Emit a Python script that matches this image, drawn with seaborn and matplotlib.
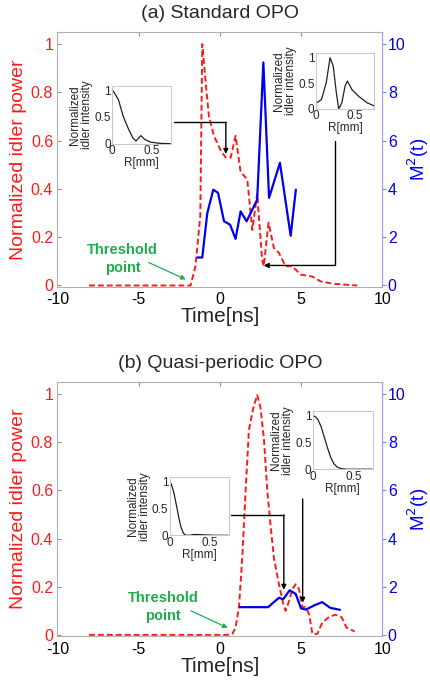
import matplotlib
matplotlib.use("Agg")
import matplotlib.pyplot as plt
import seaborn as sns
import numpy as np
import pandas as pd

# ---- data: panel (a) standard OPO ----
t_pow_a = [-8.05, -1.8, -1.5, -1.2, -1.08, -0.87, -0.67, -0.36, 0.05, 0.36, 0.67, 0.97, 1.28,
           1.69, 2.0, 2.3, 2.6, 2.7, 3.0, 3.33, 3.64, 4.05, 4.46, 4.97, 5.7, 6.2, 7.0, 8.46]
pow_a = [0.0, 0.0, 0.08, 0.29, 1.0, 0.84, 0.70, 0.62, 0.56, 0.53, 0.53, 0.62, 0.47,
         0.44, 0.23, 0.38, 0.11, 0.08, 0.26, 0.155, 0.135, 0.08, 0.08, 0.045, 0.037, 0.017, 0.007, 0.0]
t_m2_a = [-1.38, -1.08, -0.77, -0.4, -0.11, 0.26, 0.63, 0.97, 1.28, 1.65, 2.0, 2.3, 2.68,
          3.03, 3.7, 4.36, 4.68]
m2_a = [1.16, 1.16, 3.0, 3.97, 3.84, 2.66, 2.52, 1.93, 3.07, 2.66, 3.14, 3.56, 9.24,
        3.63, 5.08, 2.06, 3.97]

# ---- data: panel (b) quasi-periodic OPO ----
t_pow_b = [-8.05, 0.46, 0.77, 0.97, 1.18, 1.38, 1.59, 1.79, 2.05, 2.3, 2.5, 2.72, 2.92, 3.13,
           3.33, 3.64, 3.9, 4.05, 4.26, 4.46, 4.67, 4.87, 5.08, 5.28, 5.49, 5.7, 6.0, 6.3,
           6.7, 7.1, 7.5, 7.8, 8.3]
pow_b = [0.0, 0.0, 0.004, 0.03, 0.115, 0.32, 0.6, 0.85, 0.94, 0.996, 0.945, 0.81, 0.6, 0.45,
         0.32, 0.21, 0.13, 0.10, 0.14, 0.19, 0.21, 0.19, 0.115, 0.115, 0.087, 0.004, 0.004, 0.05,
         0.073, 0.084, 0.073, 0.03, 0.014]
t_m2_b = [1.23, 2.05, 2.97, 3.64, 3.9, 4.3, 4.67, 5.0, 5.3, 5.8, 6.3, 6.8, 7.4]
m2_b = [1.15, 1.15, 1.15, 1.54, 1.48, 1.85, 1.70, 1.1, 1.05, 1.22, 1.36, 1.12, 1.04]

# ---- inset beam profiles ----
r_a1 = [0.0, 0.02, 0.08, 0.14, 0.21, 0.26, 0.30, 0.36, 0.41, 0.48, 0.60, 0.73]
i_a1 = [1.0, 0.97, 0.82, 0.51, 0.26, 0.11, 0.05, 0.15, 0.08, 0.03, 0.006, 0.0]
r_a2 = [0.01, 0.07, 0.13, 0.18, 0.22, 0.26, 0.29, 0.33, 0.37, 0.40, 0.46, 0.54, 0.65, 0.74]
i_a2 = [0.12, 0.18, 0.5, 0.99, 0.83, 0.31, 0.0, 0.12, 0.44, 0.54, 0.37, 0.25, 0.12, 0.06]
r_b1 = [0.0, 0.02, 0.05, 0.08, 0.11, 0.14, 0.17, 0.20, 0.25, 0.30, 0.40, 0.55, 0.73]
i_b1 = [1.0, 0.95, 0.8, 0.58, 0.35, 0.15, 0.04, 0.0, 0.0, 0.015, 0.01, 0.0, 0.0]
r_b2 = [0.0, 0.03, 0.06, 0.10, 0.14, 0.18, 0.22, 0.26, 0.30, 0.35, 0.42, 0.55, 0.73]
i_b2 = [1.0, 0.98, 0.93, 0.8, 0.6, 0.4, 0.22, 0.1, 0.04, 0.01, 0.0, 0.0, 0.0]

sns.set_style("white")
plt.rcParams['font.family'] = ['Liberation Sans', 'DejaVu Sans']
plt.rcParams['axes.unicode_minus'] = False

RED = '#ff1a1a'
BLUE = '#0000ee'
GREEN = '#1fae4a'

fig = plt.figure(figsize=(4.31, 6.81), dpi=100)


def panel(rect, title, tp, pw, tm, m2):
    ax = fig.add_axes(rect)
    sns.lineplot(x=tp, y=pw, ax=ax, color=RED, lw=1.4, linestyle=(0, (3, 1.6)), sort=False)
    ax.set_xlim(-10, 10)
    ax.set_ylim(-0.005, 1.05)
    ax.set_xticks([-10, -5, 0, 5, 10])
    ax.set_yticks([0, 0.2, 0.4, 0.6, 0.8, 1])
    ax.set_yticklabels(['0', '0.2', '0.4', '0.6', '0.8', '1'])
    ax.tick_params(axis='x', direction='in', length=3, labelsize=11.5, top=True, pad=4,
                   colors='#909090', labelcolor='black')
    ax.tick_params(axis='y', direction='in', length=3, labelsize=11.5, colors='#909090',
                   labelcolor=RED, pad=3)
    for s in ax.spines.values():
        s.set_color('#b0b0b0')
        s.set_linewidth(0.8)
    ax.set_xlabel('Time[ns]', fontsize=15, labelpad=0)
    ax.set_ylabel('Normalized idler power', fontsize=14, color=RED, labelpad=3)
    ax.set_title(title, fontsize=14, pad=10)

    ax2 = ax.twinx()
    sns.lineplot(x=tm, y=m2, ax=ax2, color=BLUE, lw=1.6, sort=False)
    ax2.set_ylim(-0.05, 10.5)
    ax2.set_yticks([0, 2, 4, 6, 8, 10])
    ax2.tick_params(axis='y', direction='out', length=3, labelsize=11.5, colors='#8080ff',
                    labelcolor=BLUE, pad=1)
    ax2.spines['right'].set_color('#a0a0ff')
    for k in ['left', 'top', 'bottom']:
        ax2.spines[k].set_visible(False)
    ax2.set_ylabel('M$^2$(t)', fontsize=13.5, color=BLUE, labelpad=0)
    return ax


def inset(rect, r, inten):
    ia = fig.add_axes(rect)
    sns.lineplot(x=r, y=inten, ax=ia, color='#202020', lw=0.9)
    ia.set_xlim(0, 0.74)
    ia.set_ylim(0, 1.08)
    ia.set_xticks([0, 0.5])
    ia.set_xticklabels(['0', '0.5'])
    ia.set_yticks([0, 0.5, 1])
    ia.set_yticklabels(['0', '0.5', '1'])
    ia.tick_params(labelsize=8.5, length=0, pad=1)
    for s in ia.spines.values():
        s.set_color('#c8c8c8')
        s.set_linewidth(0.7)
    ia.set_xlabel('R[mm]', fontsize=8.5, labelpad=0)
    ia.set_ylabel('Normalized\nidler intensity', fontsize=8.5, labelpad=1, linespacing=0.95)
    return ia


def elbow(ax, pts):
    xs = [p[0] for p in pts]
    ys = [p[1] for p in pts]
    ax.plot(xs[:-1], ys[:-1], color='black', lw=1.0)
    ax.annotate('', xy=pts[-1], xytext=pts[-2],
                arrowprops=dict(arrowstyle='-|>', color='black', lw=1.0, mutation_scale=7,
                                shrinkA=0, shrinkB=0))


def threshold(ax, txt_xy, tail, head):
    ax.text(txt_xy[0], txt_xy[1], 'Threshold\npoint', color=GREEN, fontsize=10.5,
            fontweight='bold', ha='center', va='center', linespacing=1.3)
    ax.annotate('', xy=head, xytext=tail,
                arrowprops=dict(arrowstyle='-|>', color=GREEN, lw=0.9, mutation_scale=7,
                                shrinkA=0, shrinkB=0))


# panel (a)
axa = panel([0.133, 0.579, 0.754, 0.374], '(a) Standard OPO', t_pow_a, pow_a, t_m2_a, m2_a)
elbow(axa, [(-2.83, 0.676), (0.37, 0.676), (0.37, 0.545)])
elbow(axa, [(7.08, 0.598), (7.08, 0.083), (2.7, 0.083)])
threshold(axa, (-5.97, 0.11), (-4.37, 0.095), (-2.09, 0.025))
inset([0.260, 0.789, 0.137, 0.085], r_a1, i_a1)
inset([0.733, 0.840, 0.135, 0.082], r_a2, i_a2)

# panel (b)
axb = panel([0.133, 0.066, 0.754, 0.373], '(b) Quasi-periodic OPO', t_pow_b, pow_b, t_m2_b, m2_b)
elbow(axb, [(0.68, 0.498), (3.94, 0.498), (3.94, 0.187)])
elbow(axb, [(5.1, 0.564), (5.1, 0.133)])
threshold(axb, (-3.5, 0.116), (-1.78, 0.1), (0.49, 0.029))
inset([0.394, 0.214, 0.137, 0.085], r_b1, i_b1)
inset([0.726, 0.311, 0.139, 0.085], r_b2, i_b2)

fig.savefig('out.png', dpi=100)
